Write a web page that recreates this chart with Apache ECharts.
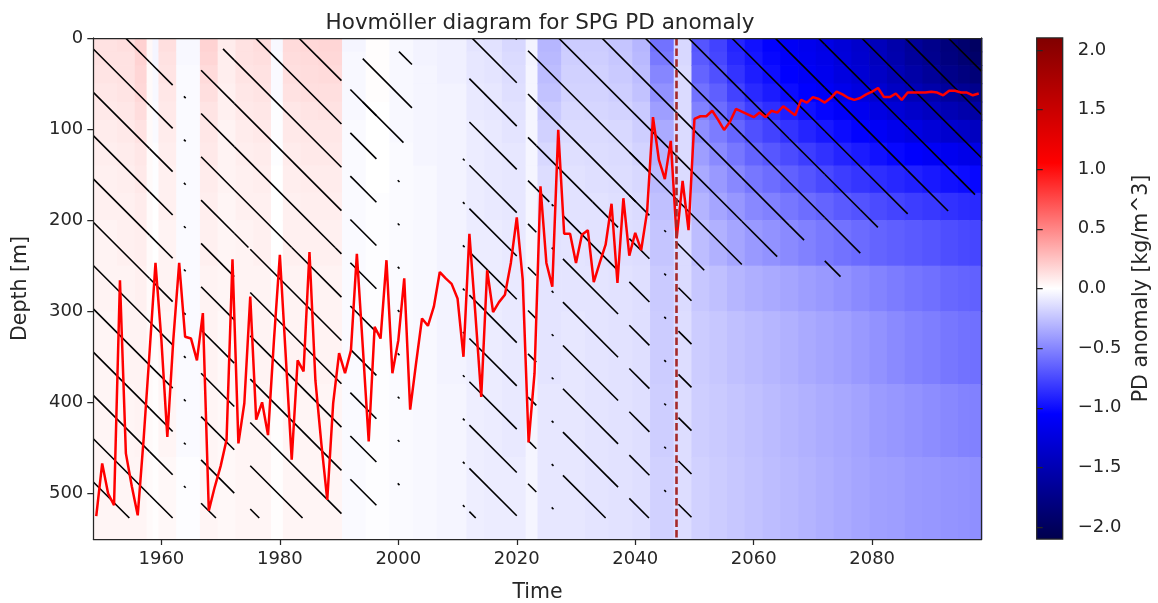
<!DOCTYPE html>
<html><head><meta charset="utf-8">
<script src="https://cdn.jsdelivr.net/npm/echarts@6/dist/echarts.min.js"></script>
<style>html,body{margin:0;padding:0;background:#fff}#c{width:1158px;height:603px}</style>
</head><body><div id="c"></div>
<script>
// ---------------- data ----------------
const xTickYears = [1960, 1980, 2000, 2020, 2040, 2060, 2080];
const yTickDepths = [0, 100, 200, 300, 400, 500];
const cbarTicks = [-2, -1.5, -1, -0.5, 0, 0.5, 1, 1.5, 2];
const xRange = [1948.5, 2098.5];
const depthRange = [0, 550];
const cbarRange = [-2.1, 2.1];
const scenarioYear = 2047;

// time-column edges (years) of the anomaly field
const columnEdges = [1948.5, 1952.5, 1955.5, 1957.5, 1958.5, 1959.5, 1962.5, 1966.5, 1969.5, 1972.5,
  1975.5, 1978.5, 1980.5, 1983.5, 1986.5, 1990.5, 1994.5, 1998.5, 2002.5, 2006.5, 2011.5, 2014.5,
  2017.5, 2021.5, 2023.5, 2027.5, 2031.5, 2035.5, 2039.5, 2042.5, 2046.5, 2049.5, 2052.5, 2055.5,
  2058.5, 2061.5, 2064.5, 2067.5, 2070.5, 2073.5, 2076.5, 2079.5, 2082.5, 2085.5, 2088.5, 2091.5,
  2094.5, 2096.5, 2098.5];
// depth-band edges [m]
const depthEdges = [0, 15, 30, 50, 70, 90, 115, 140, 170, 200, 250, 300, 380, 460, 550];
// PD anomaly [kg/m^3]: one row per time column, values from shallow to deep band
const pdAnomaly = [
  [0.12,0.12,0.11,0.10,0.09,0.08,0.07,0.06,0.06,0.05,0.05,0.04,0.04,0.04],
  [0.13,0.12,0.12,0.11,0.10,0.09,0.08,0.07,0.06,0.06,0.05,0.05,0.04,0.04],
  [0.19,0.18,0.17,0.16,0.14,0.12,0.10,0.09,0.08,0.07,0.06,0.05,0.05,0.04],
  [0.03,0.03,0.02,0.02,0.02,0.02,0.02,0.02,0.02,0.02,0.02,0.02,0.02,0.02],
  [-0.04,-0.04,-0.03,-0.03,-0.02,-0.02,-0.01,-0.01,0.00,0.00,0.01,0.01,0.01,0.01],
  [0.13,0.12,0.11,0.10,0.09,0.08,0.07,0.06,0.06,0.05,0.05,0.04,0.04,0.03],
  [-0.03,-0.03,-0.02,-0.02,-0.02,-0.02,-0.02,-0.02,-0.02,-0.02,-0.02,-0.02,-0.02,-0.01],
  [0.18,0.17,0.15,0.13,0.11,0.10,0.09,0.08,0.07,0.06,0.05,0.05,0.04,0.04],
  [0.08,0.07,0.07,0.06,0.06,0.05,0.05,0.05,0.04,0.04,0.04,0.03,0.03,0.03],
  [0.12,0.12,0.11,0.10,0.09,0.08,0.07,0.06,0.06,0.05,0.05,0.04,0.04,0.04],
  [0.14,0.13,0.12,0.11,0.10,0.09,0.08,0.07,0.06,0.06,0.05,0.05,0.04,0.04],
  [-0.03,-0.02,-0.02,-0.02,-0.01,-0.01,-0.01,0.00,0.00,0.00,0.01,0.01,0.01,0.01],
  [0.15,0.14,0.13,0.12,0.10,0.09,0.08,0.07,0.06,0.06,0.05,0.05,0.04,0.04],
  [0.16,0.15,0.14,0.13,0.11,0.10,0.09,0.08,0.07,0.06,0.05,0.05,0.04,0.04],
  [0.17,0.16,0.15,0.13,0.12,0.10,0.09,0.08,0.07,0.06,0.05,0.05,0.04,0.04],
  [-0.04,-0.03,-0.03,-0.03,-0.03,-0.02,-0.02,-0.02,-0.02,-0.02,-0.02,-0.02,-0.02,-0.02],
  [0.01,0.01,0.01,0.01,0.00,0.00,0.00,0.00,-0.01,-0.01,-0.01,-0.01,-0.01,-0.01],
  [-0.03,-0.03,-0.03,-0.03,-0.03,-0.03,-0.02,-0.02,-0.02,-0.02,-0.02,-0.02,-0.02,-0.02],
  [-0.05,-0.05,-0.04,-0.04,-0.04,-0.04,-0.04,-0.03,-0.03,-0.03,-0.03,-0.03,-0.03,-0.03],
  [-0.06,-0.06,-0.06,-0.05,-0.05,-0.05,-0.05,-0.05,-0.05,-0.05,-0.05,-0.05,-0.04,-0.04],
  [-0.11,-0.10,-0.10,-0.09,-0.09,-0.08,-0.08,-0.08,-0.08,-0.08,-0.07,-0.07,-0.07,-0.07],
  [-0.12,-0.11,-0.11,-0.10,-0.10,-0.09,-0.09,-0.09,-0.09,-0.08,-0.08,-0.08,-0.08,-0.08],
  [-0.16,-0.15,-0.14,-0.13,-0.12,-0.11,-0.10,-0.10,-0.10,-0.09,-0.09,-0.09,-0.09,-0.08],
  [-0.05,-0.05,-0.04,-0.04,-0.04,-0.04,-0.04,-0.04,-0.04,-0.04,-0.04,-0.04,-0.04,-0.04],
  [-0.30,-0.29,-0.27,-0.25,-0.22,-0.19,-0.16,-0.14,-0.13,-0.12,-0.11,-0.11,-0.10,-0.10],
  [-0.21,-0.20,-0.19,-0.18,-0.16,-0.15,-0.13,-0.12,-0.12,-0.11,-0.11,-0.10,-0.10,-0.10],
  [-0.21,-0.20,-0.19,-0.18,-0.17,-0.15,-0.14,-0.13,-0.12,-0.12,-0.11,-0.11,-0.11,-0.11],
  [-0.24,-0.23,-0.22,-0.20,-0.18,-0.16,-0.15,-0.14,-0.13,-0.13,-0.12,-0.12,-0.12,-0.12],
  [-0.30,-0.29,-0.27,-0.25,-0.22,-0.20,-0.18,-0.16,-0.15,-0.14,-0.13,-0.13,-0.13,-0.13],
  [-0.58,-0.55,-0.50,-0.45,-0.40,-0.35,-0.31,-0.28,-0.26,-0.24,-0.22,-0.21,-0.20,-0.19],
  [-0.16,-0.16,-0.15,-0.15,-0.15,-0.15,-0.15,-0.15,-0.15,-0.15,-0.15,-0.14,-0.14,-0.14],
  [-0.70,-0.68,-0.64,-0.58,-0.52,-0.46,-0.40,-0.35,-0.31,-0.27,-0.23,-0.21,-0.20,-0.19],
  [-0.78,-0.76,-0.72,-0.66,-0.60,-0.54,-0.48,-0.42,-0.37,-0.32,-0.26,-0.23,-0.22,-0.21],
  [-0.90,-0.88,-0.84,-0.78,-0.70,-0.63,-0.56,-0.49,-0.43,-0.37,-0.30,-0.26,-0.24,-0.23],
  [-0.98,-0.96,-0.93,-0.88,-0.80,-0.72,-0.64,-0.56,-0.49,-0.42,-0.33,-0.28,-0.26,-0.25],
  [-1.04,-1.02,-0.99,-0.94,-0.86,-0.78,-0.69,-0.60,-0.52,-0.45,-0.35,-0.30,-0.28,-0.27],
  [-1.10,-1.08,-1.05,-1.00,-0.92,-0.84,-0.74,-0.65,-0.56,-0.48,-0.37,-0.32,-0.30,-0.29],
  [-1.15,-1.13,-1.10,-1.05,-0.98,-0.90,-0.80,-0.70,-0.60,-0.52,-0.40,-0.35,-0.32,-0.31],
  [-1.20,-1.18,-1.15,-1.10,-1.03,-0.95,-0.85,-0.75,-0.64,-0.55,-0.42,-0.37,-0.34,-0.33],
  [-1.28,-1.26,-1.23,-1.17,-1.08,-1.00,-0.90,-0.80,-0.68,-0.58,-0.45,-0.39,-0.36,-0.35],
  [-1.35,-1.33,-1.30,-1.24,-1.14,-1.04,-0.94,-0.83,-0.71,-0.61,-0.48,-0.42,-0.38,-0.37],
  [-1.45,-1.43,-1.39,-1.32,-1.22,-1.10,-0.98,-0.86,-0.74,-0.64,-0.51,-0.45,-0.41,-0.39],
  [-1.55,-1.53,-1.48,-1.40,-1.29,-1.16,-1.02,-0.89,-0.77,-0.66,-0.54,-0.48,-0.43,-0.40],
  [-1.65,-1.63,-1.57,-1.48,-1.36,-1.22,-1.06,-0.92,-0.80,-0.68,-0.57,-0.51,-0.45,-0.42],
  [-1.73,-1.71,-1.65,-1.55,-1.42,-1.28,-1.10,-0.95,-0.82,-0.70,-0.59,-0.53,-0.47,-0.43],
  [-1.82,-1.80,-1.74,-1.63,-1.49,-1.34,-1.14,-0.98,-0.85,-0.73,-0.62,-0.56,-0.49,-0.44],
  [-1.90,-1.87,-1.80,-1.68,-1.54,-1.38,-1.18,-1.00,-0.87,-0.75,-0.64,-0.58,-0.51,-0.45],
  [-1.97,-1.93,-1.85,-1.72,-1.58,-1.42,-1.20,-1.02,-0.88,-0.76,-0.65,-0.59,-0.52,-0.46]
];

// hatched (significant) areas: [yearStart, yearEnd, depthTop, depthBottom]
const hatchBoxes = [
  [1948.5, 1958.0, 0, 527], [1958.0, 1961.9, 25, 527], [1963.8, 1964.1, 50, 527],
  [1966.7, 1972.3, 12, 527], [1972.3, 1990.4, 0, 230], [1975.0, 1990.4, 230, 527],
  [1991.9, 1996.3, 40, 527], [1994.0, 2002.3, 15, 115], [1999.9, 2000.2, 115, 527],
  [2010.9, 2011.2, 130, 527], [2012.0, 2020.0, 0, 527], [2021.9, 2023.3, 0, 527],
  [2023.3, 2046.8, 0, 180], [2025.9, 2026.2, 180, 527], [2027.8, 2037.1, 180, 527],
  [2039.0, 2042.4, 100, 527], [2044.9, 2045.2, 180, 527], [2047.3, 2049.5, 255, 527],
  [2046.8, 2058.0, 0, 255], [2058.0, 2066.0, 0, 240], [2066.0, 2072.0, 0, 222],
  [2072.0, 2078.0, 0, 262], [2078.0, 2086.0, 0, 208], [2086.0, 2094.0, 0, 190],
  [2094.0, 2098.5, 0, 172]
];

// red line: depth [m], one value per year starting 1949
const mldStartYear = 1949;
const mldDepth = [
  525,467,500,513,266,456,492,524,440,345, 247,332,438,332,247,328,330,354,302,519,
  493,470,441,243,445,401,284,419,400,436, 332,238,350,463,354,366,235,376,445,507,
  401,346,368,343,237,339,443,317,330,244, 368,332,264,408,357,308,316,295,257,264,
  270,286,350,215,302,394,255,301,290,282, 247,197,265,444,368,163,247,273,101,215,
  215,247,216,211,268,247,227,182,269,176, 239,214,233,191,87,134,155,113,220,157,
  211,89,86,86,80,90,101,92,78,81, 84,87,82,87,80,82,75,80,85,68,
  71,65,67,71,66,59,62,66,68,66, 62,59,55,65,65,61,68,60,60,60,
  60,59,60,63,58,58,60,60,63,61
];

// ---------------- build ----------------
const cmapColors = ['#00004c', '#0000ff', '#ffffff', '#ff0000', '#800000'];
const TXT = '#262626';
const FONT = 'DejaVu Sans';

const cells = [];
for (let i = 0; i < pdAnomaly.length; i++) {
  for (let j = 0; j < depthEdges.length - 1; j++) {
    cells.push([columnEdges[i], columnEdges[i + 1], depthEdges[j], depthEdges[j + 1], pdAnomaly[i][j]]);
  }
}
const mldData = mldDepth.map((d, i) => [mldStartYear + i, d]);

const HATCH_PERIOD = 43.3, HATCH_OFFSET = -1;

function boxPx(api) {
  const p0 = api.coord([api.value(0), api.value(2)]);
  const p1 = api.coord([api.value(1), api.value(3)]);
  return {
    x0: Math.min(p0[0], p1[0]), x1: Math.max(p0[0], p1[0]),
    y0: Math.min(p0[1], p1[1]), y1: Math.max(p0[1], p1[1])
  };
}

const chart = echarts.init(document.getElementById('c'), null, {renderer: 'canvas'});
const option = {
  backgroundColor: '#ffffff',
  animation: false,
  title: {
    text: 'Hovmöller diagram for SPG PD anomaly',
    left: 535, top: 7, textAlign: 'center',
    textStyle: {fontFamily: FONT, fontSize: 21.5, fontWeight: 'normal', color: TXT}
  },
  grid: [
    {left: 93.3, top: 37.9, width: 888.4, height: 501.1, outerBoundsMode: 'none', containLabel: false},
    {left: 1036.7, top: 37.9, width: 26, height: 501.1, outerBoundsMode: 'none', containLabel: false}
  ],
  visualMap: {
    type: 'continuous', show: false, min: cbarRange[0], max: cbarRange[1],
    dimension: 4, seriesIndex: 0, inRange: {color: cmapColors}
  },
  xAxis: [
    {
      type: 'value', gridIndex: 0, min: xRange[0], max: xRange[1], z: 10,
      name: 'Time', nameLocation: 'middle', nameGap: 43,
      nameTextStyle: {fontFamily: FONT, fontSize: 20.5, color: TXT},
      axisLine: {show: true, onZero: false, lineStyle: {color: TXT, width: 1.25}},
      axisTick: {show: true, length: 6, lineStyle: {color: TXT, width: 1.25}, customValues: xTickYears},
      axisLabel: {fontFamily: FONT, fontSize: 18, color: TXT, margin: 11, customValues: xTickYears,
        formatter: v => String(v)},
      splitLine: {show: false}
    },
    {type: 'value', gridIndex: 1, min: 0, max: 1, show: false},
    {
      type: 'value', gridIndex: 0, position: 'top', min: xRange[0], max: xRange[1], z: 10,
      axisLine: {show: true, onZero: false, lineStyle: {color: TXT, width: 1.25}},
      axisTick: {show: false}, axisLabel: {show: false}, splitLine: {show: false}
    }
  ],
  yAxis: [
    {
      type: 'value', gridIndex: 0, min: depthRange[0], max: depthRange[1], inverse: true, z: 10,
      name: 'Depth [m]', nameLocation: 'middle', nameGap: 62, nameRotate: 90,
      nameTextStyle: {fontFamily: FONT, fontSize: 20.5, color: TXT},
      axisLine: {show: true, onZero: false, lineStyle: {color: TXT, width: 1.25}},
      axisTick: {show: true, length: 6, lineStyle: {color: TXT, width: 1.25}, customValues: yTickDepths},
      axisLabel: {fontFamily: FONT, fontSize: 18, color: TXT, margin: 10, customValues: yTickDepths,
        formatter: v => String(v)},
      splitLine: {show: false}
    },
    {
      type: 'value', gridIndex: 1, position: 'right', min: cbarRange[0], max: cbarRange[1], z: 10,
      name: 'PD anomaly [kg/m^3]', nameLocation: 'middle', nameGap: 68, nameRotate: 90,
      nameTextStyle: {fontFamily: FONT, fontSize: 20.5, color: TXT},
      axisLine: {show: false},
      axisTick: {show: true, length: 6, lineStyle: {color: TXT, width: 1.25}, customValues: cbarTicks},
      axisLabel: {
        fontFamily: FONT, fontSize: 18, color: TXT, margin: 15, customValues: cbarTicks,
        formatter: v => (v < 0 ? '\u2212' : '') + Math.abs(v).toFixed(1)
      },
      splitLine: {show: false}
    },
    {
      type: 'value', gridIndex: 0, position: 'right', min: depthRange[0], max: depthRange[1], inverse: true, z: 10,
      axisLine: {show: true, onZero: false, lineStyle: {color: TXT, width: 1.25}},
      axisTick: {show: false}, axisLabel: {show: false}, splitLine: {show: false}
    }
  ],
  series: [
    {
      type: 'custom', name: 'PD anomaly', xAxisIndex: 0, yAxisIndex: 0, clip: true, z: 1,
      encode: {x: [0, 1], y: [2, 3]},
      data: cells,
      renderItem: (params, api) => {
        const b = boxPx(api);
        return {
          type: 'rect',
          shape: {x: b.x0, y: b.y0, width: b.x1 - b.x0 + 0.7, height: b.y1 - b.y0 + 0.7},
          style: {fill: api.visual('color')}
        };
      }
    },
    {
      type: 'custom', name: 'hatch', xAxisIndex: 0, yAxisIndex: 0, clip: true, z: 2, silent: true,
      encode: {x: [0, 1], y: [2, 3]},
      data: hatchBoxes,
      renderItem: (params, api) => {
        const b = boxPx(api);
        const children = [];
        const kMin = Math.ceil((b.y0 - b.x1 - HATCH_OFFSET) / HATCH_PERIOD);
        const kMax = Math.floor((b.y1 - b.x0 - HATCH_OFFSET) / HATCH_PERIOD);
        for (let k = kMin; k <= kMax; k++) {
          const c = HATCH_OFFSET + k * HATCH_PERIOD;
          const xa = Math.max(b.x0, b.y0 - c);
          const xb = Math.min(b.x1, b.y1 - c);
          if (xb > xa) {
            children.push({
              type: 'line',
              shape: {x1: xa, y1: xa + c, x2: xb, y2: xb + c},
              style: {stroke: '#000000', lineWidth: 1.6}
            });
          }
        }
        return {type: 'group', children};
      }
    },
    {
      type: 'line', name: 'depth', xAxisIndex: 0, yAxisIndex: 0, z: 5,
      data: mldData, symbol: 'none', showSymbol: false,
      lineStyle: {color: '#ff0000', width: 2.5},
      markLine: {
        silent: true, symbol: ['none', 'none'], label: {show: false}, z: 6,
        lineStyle: {color: '#a52a2a', width: 2.6, type: [7.5, 3.2]},
        data: [{xAxis: scenarioYear}]
      }
    },
    {
      type: 'custom', name: 'colorbar', xAxisIndex: 1, yAxisIndex: 1, z: 1,
      data: [[0, 1]],
      renderItem: (params, api) => {
        const top = api.coord([0, cbarRange[1]]);
        const bot = api.coord([1, cbarRange[0]]);
        const n = cmapColors.length;
        const stops = cmapColors.slice().reverse().map((c, i) => ({offset: i / (n - 1), color: c}));
        return {
          type: 'rect',
          shape: {x: top[0], y: top[1], width: bot[0] - top[0], height: bot[1] - top[1]},
          style: {fill: new echarts.graphic.LinearGradient(0, 0, 0, 1, stops), stroke: TXT, lineWidth: 1.25}
        };
      }
    }
  ]
};
chart.setOption(option);
</script></body></html>
